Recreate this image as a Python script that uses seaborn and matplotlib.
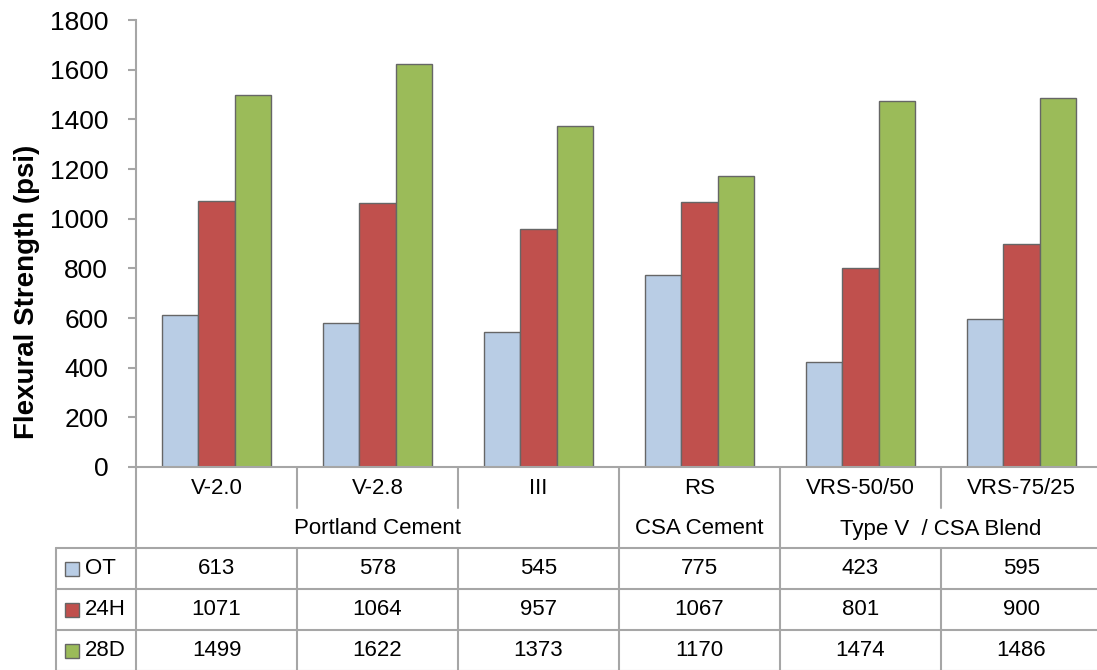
import matplotlib
matplotlib.use("Agg")
import matplotlib.pyplot as plt
from matplotlib.patches import Rectangle
import pandas as pd
import seaborn as sns

# data
mixes = ["V-2.0", "V-2.8", "III", "RS", "VRS-50/50", "VRS-75/25"]
groups = ["Portland Cement", "CSA Cement", "Type V  / CSA Blend"]
group_span = [(0, 3), (3, 4), (4, 6)]
ages = ["OT", "24H", "28D"]
ot = [613, 578, 545, 775, 423, 595]
h24 = [1071, 1064, 957, 1067, 801, 900]
d28 = [1499, 1622, 1373, 1170, 1474, 1486]
y_ticks = [0, 200, 400, 600, 800, 1000, 1200, 1400, 1600, 1800]

colors = ["#B9CDE5", "#C0504D", "#9BBB59"]
edge = "#666666"
grid = "#A6A6A6"

sns.set_theme(style="white")
plt.rcParams["font.family"] = ["Liberation Sans", "DejaVu Sans"]
plt.rcParams["text.color"] = "black"
plt.rcParams["ytick.labelcolor"] = "black"

df = pd.DataFrame({
    "mix": mixes * 3,
    "age": [a for a in ages for _ in mixes],
    "value": ot + h24 + d28,
})

W, H = 1097, 670
fig = plt.figure(figsize=(W / 100, H / 100), dpi=100)
left, right, top, bottom = 136, 1102, 20, 467
ax = fig.add_axes([left / W, 1 - bottom / H, (right - left) / W, (bottom - top) / H])

sns.barplot(data=df, x="mix", y="value", hue="age", hue_order=ages,
            palette=colors, width=0.68, edgecolor=edge, linewidth=1,
            saturation=1, legend=False, ax=ax)
ax.set_xlim(-0.5, 5.5)
ax.set_ylim(0, 1800)
ax.set_yticks(y_ticks)
ax.set_xticks([])
ax.set_xlabel("")
ax.set_ylabel("")
for s in ["top", "right"]:
    ax.spines[s].set_visible(False)
for s in ["left", "bottom"]:
    ax.spines[s].set_color(grid)
    ax.spines[s].set_linewidth(1.5)
ax.tick_params(axis="y", direction="out", length=6, width=1.5, color=grid,
               pad=14, labelsize=19, left=True, labelcolor="black")

fig.text(27 / W, 1 - 292 / H, "Flexural Strength (psi)", rotation=90,
         ha="center", va="center", fontsize=20, fontweight="bold")

# overlay in pixel-like coordinates with x matching the bar axis units
tab = fig.add_axes([0, 0, 1, 1], zorder=-1)
unit = (right - left) / 6
tab.set_xlim(-0.5 - left / unit, -0.5 + (W - left) / unit)
tab.set_ylim(H, 0)
tab.axis("off")


def px(x):
    return -0.5 + (x - left) / unit


lw = 1.5
row_top = 548
row_h = 41
rows_y = [row_top + row_h * k for k in range(4)]

# category labels row
for i, m in enumerate(mixes):
    tab.text(i, 489, m, ha="center", va="center", fontsize=16)
for g, (a, b) in zip(groups, group_span):
    tab.text((a + b - 1) / 2, 529, g, ha="center", va="center", fontsize=16)
for i in range(1, 6):
    x = i - 0.5
    full = any(i == a for a, _ in group_span[1:])
    tab.plot([x, x], [bottom, row_top if full else 508], color=grid, lw=lw)
tab.plot([-0.5, -0.5], [bottom, H], color=grid, lw=lw)

# data table
x_tab_left = px(56)
for y in rows_y:
    tab.plot([x_tab_left, 5.6], [y, y], color=grid, lw=lw)
tab.plot([x_tab_left, x_tab_left], [row_top, H], color=grid, lw=lw)
for i in range(1, 6):
    tab.plot([i - 0.5, i - 0.5], [row_top, H], color=grid, lw=lw)

for r, (name, vals, c) in enumerate(zip(ages, [ot, h24, d28], colors)):
    yc = row_top + row_h * (r + 0.5)
    tab.add_patch(Rectangle((px(65), yc - 7), 14 / unit, 14,
                            facecolor=c, edgecolor=edge, lw=1))
    tab.text(px(85), yc, name, ha="left", va="center", fontsize=16)
    for i, v in enumerate(vals):
        tab.text(i, yc, str(v), ha="center", va="center", fontsize=16)

fig.savefig("out.png", dpi=100)
